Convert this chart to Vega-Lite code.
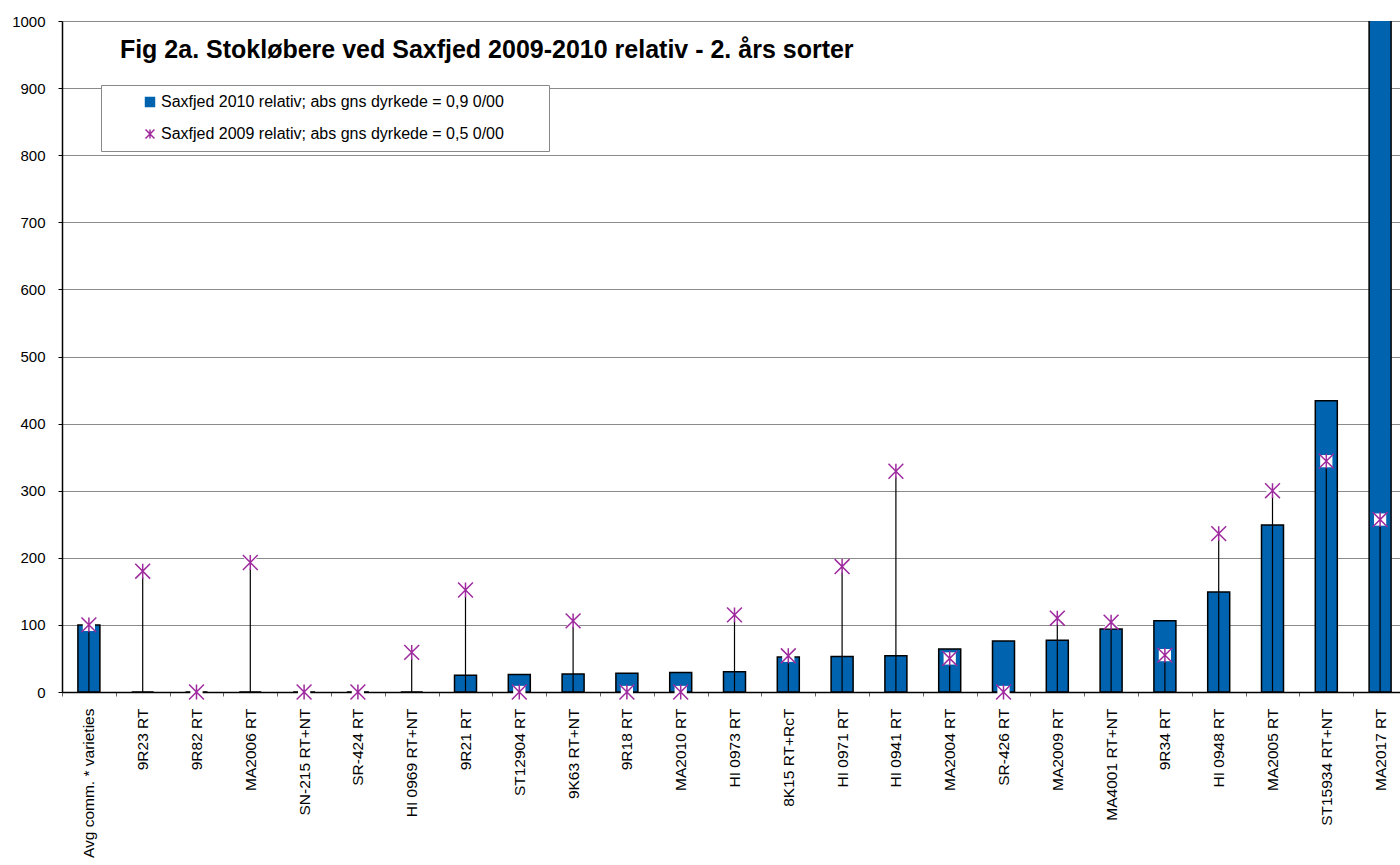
{
  "$schema": "https://vega.github.io/schema/vega-lite/v6.json",
  "autosize": "none",
  "width": 1345,
  "height": 671,
  "padding": {"left": 62, "top": 21, "right": 0, "bottom": 173},
  "background": "white",
  "config": {
    "font": "Liberation Sans",
    "view": {"stroke": null},
    "legend": {
      "title": null,
      "orient": "none",
      "legendX": 39,
      "legendY": 64,
      "padding": 9,
      "fillColor": "white",
      "strokeColor": "#888888",
      "labelFontSize": 16,
      "labelFont": "Liberation Sans",
      "labelColor": "black",
      "labelLimit": 700,
      "symbolSize": 80,
      "symbolOffset": 32,
      "labelOffset": 3,
      "rowPadding": 16,
      "symbolStrokeWidth": 1.5
    }
  },
  "data": {
    "values": [
      {"variety": "Avg comm.  * varieties", "y2010": 100, "y2009": 100},
      {"variety": "9R23 RT", "y2010": 0, "y2009": 180},
      {"variety": "9R82 RT", "y2010": 0, "y2009": 0},
      {"variety": "MA2006 RT", "y2010": 0, "y2009": 193},
      {"variety": "SN-215 RT+NT", "y2010": 0, "y2009": 0},
      {"variety": "SR-424 RT", "y2010": 0, "y2009": 0},
      {"variety": "HI 0969 RT+NT", "y2010": 0, "y2009": 59},
      {"variety": "9R21 RT", "y2010": 25, "y2009": 152},
      {"variety": "ST12904 RT", "y2010": 26, "y2009": 0},
      {"variety": "9K63 RT+NT", "y2010": 27, "y2009": 106},
      {"variety": "9R18 RT", "y2010": 28, "y2009": 0},
      {"variety": "MA2010 RT", "y2010": 29, "y2009": 0},
      {"variety": "HI 0973 RT", "y2010": 30, "y2009": 115},
      {"variety": "8K15 RT+RcT", "y2010": 52, "y2009": 54},
      {"variety": "HI 0971 RT", "y2010": 53, "y2009": 187},
      {"variety": "HI 0941 RT", "y2010": 54, "y2009": 329},
      {"variety": "MA2004 RT", "y2010": 64, "y2009": 50},
      {"variety": "SR-426 RT", "y2010": 76, "y2009": 0},
      {"variety": "MA2009 RT", "y2010": 77, "y2009": 110},
      {"variety": "MA4001 RT+NT", "y2010": 94, "y2009": 104},
      {"variety": "9R34 RT", "y2010": 106, "y2009": 55},
      {"variety": "HI 0948 RT", "y2010": 149, "y2009": 236},
      {"variety": "MA2005 RT", "y2010": 249, "y2009": 300},
      {"variety": "ST15934 RT+NT", "y2010": 434, "y2009": 344},
      {"variety": "MA2017 RT", "y2010": 1100, "y2009": 257}
    ]
  },
  "transform": [{"fold": ["y2010", "y2009"], "as": ["series", "value"]}],
  "encoding": {
    "x": {
      "field": "variety",
      "type": "nominal",
      "scale": {
        "domain": ["Avg comm.  * varieties", "9R23 RT", "9R82 RT", "MA2006 RT", "SN-215 RT+NT", "SR-424 RT", "HI 0969 RT+NT", "9R21 RT", "ST12904 RT", "9K63 RT+NT", "9R18 RT", "MA2010 RT", "HI 0973 RT", "8K15 RT+RcT", "HI 0971 RT", "HI 0941 RT", "MA2004 RT", "SR-426 RT", "MA2009 RT", "MA4001 RT+NT", "9R34 RT", "HI 0948 RT", "MA2005 RT", "ST15934 RT+NT", "MA2017 RT"],
        "paddingInner": 0,
        "paddingOuter": 0
      },
      "axis": {
        "title": null,
        "labelAngle": -90,
        "labelFontSize": 15.5,
        "labelFont": "Liberation Sans",
        "labelColor": "black",
        "labelPadding": 12,
        "labelLimit": 300,
        "tickBand": "extent",
        "tickSize": 4,
        "tickColor": "#666666",
        "domainColor": "black",
        "domainWidth": 1.5,
        "grid": false
      }
    }
  },
  "layer": [
    {
      "transform": [{"filter": "datum.series == 'y2010'"}],
      "mark": {"type": "bar", "size": 22, "clip": true, "stroke": "black", "strokeWidth": 1.5},
      "encoding": {
        "y": {
          "field": "value",
          "type": "quantitative",
          "scale": {"domain": [0, 1000], "nice": false},
          "axis": {
            "title": null,
            "values": [0, 100, 200, 300, 400, 500, 600, 700, 800, 900, 1000],
            "format": "d",
            "grid": true,
            "gridColor": "#8A8A8A",
            "gridWidth": 1,
            "domainColor": "black",
            "domainWidth": 1.5,
            "tickColor": "black",
            "tickSize": 4,
            "labelFontSize": 15,
            "labelFont": "Liberation Sans",
            "labelPadding": 13,
            "labelColor": "black"
          }
        },
        "color": {
          "field": "series",
          "type": "nominal",
          "scale": {"domain": ["y2010", "y2009"], "range": ["#0063B0", "#9E2A9E"]},
          "legend": {
            "labelExpr": "datum.value == 'y2010' ? 'Saxfjed 2010 relativ; abs gns dyrkede = 0,9 0/00\u00a0\u00a0\u00a0\u00a0\u00a0\u00a0\u00a0\u00a0\u200b' : 'Saxfjed 2009 relativ; abs gns dyrkede = 0,5 0/00\u00a0\u00a0\u00a0\u00a0\u00a0\u00a0\u00a0\u00a0\u200b'",
            "encode": {
              "symbols": {
                "update": {
                  "fill": {"signal": "datum.value == 'y2010' ? '#0063B0' : 'transparent'"},
                  "stroke": {"signal": "datum.value == 'y2010' ? 'black' : '#9E2A9E'"}
                }
              }
            }
          }
        }
      }
    },
    {
      "transform": [{"filter": "datum.series == 'y2009'"}],
      "mark": {"type": "rule", "color": "black", "strokeWidth": 1.2},
      "encoding": {
        "y": {"field": "value", "type": "quantitative"},
        "y2": {"datum": 0}
      }
    },
    {
      "transform": [{"filter": "datum.series == 'y2009'"}],
      "mark": {"type": "point", "shape": "square", "filled": true, "color": "white", "opacity": 1, "size": 150, "strokeWidth": 0},
      "encoding": {
        "y": {"field": "value", "type": "quantitative"}
      }
    },
    {
      "transform": [{"filter": "datum.series == 'y2009'"}],
      "mark": {"type": "point", "filled": false, "strokeWidth": 1.5, "size": 220, "opacity": 1},
      "encoding": {
        "y": {"field": "value", "type": "quantitative"},
        "color": {
          "field": "series",
          "type": "nominal",
          "scale": {"domain": ["y2010", "y2009"], "range": ["#0063B0", "#9E2A9E"]},
          "legend": {
            "labelExpr": "datum.value == 'y2010' ? 'Saxfjed 2010 relativ; abs gns dyrkede = 0,9 0/00\u00a0\u00a0\u00a0\u00a0\u00a0\u00a0\u00a0\u00a0\u200b' : 'Saxfjed 2009 relativ; abs gns dyrkede = 0,5 0/00\u00a0\u00a0\u00a0\u00a0\u00a0\u00a0\u00a0\u00a0\u200b'",
            "encode": {
              "symbols": {
                "update": {
                  "fill": {"signal": "datum.value == 'y2010' ? '#0063B0' : 'transparent'"},
                  "stroke": {"signal": "datum.value == 'y2010' ? 'black' : '#9E2A9E'"}
                }
              }
            }
          }
        },
        "shape": {
          "field": "series",
          "type": "nominal",
          "scale": {"domain": ["y2010", "y2009"], "range": ["square", "M-1,-1L1,1M1,-1L-1,1M0,-1L0,1"]},
          "legend": {
            "labelExpr": "datum.value == 'y2010' ? 'Saxfjed 2010 relativ; abs gns dyrkede = 0,9 0/00\u00a0\u00a0\u00a0\u00a0\u00a0\u00a0\u00a0\u00a0\u200b' : 'Saxfjed 2009 relativ; abs gns dyrkede = 0,5 0/00\u00a0\u00a0\u00a0\u00a0\u00a0\u00a0\u00a0\u00a0\u200b'",
            "encode": {
              "symbols": {
                "update": {
                  "fill": {"signal": "datum.value == 'y2010' ? '#0063B0' : 'transparent'"},
                  "stroke": {"signal": "datum.value == 'y2010' ? 'black' : '#9E2A9E'"}
                }
              }
            }
          }
        }
      }
    },
    {
      "data": {"values": [{"caption": "Fig 2a. Stokløbere ved Saxfjed 2009-2010 relativ - 2. års sorter"}]},
      "transform": [],
      "mark": {"type": "text", "align": "left", "baseline": "alphabetic", "dx": 31, "fontSize": 25, "fontWeight": "bold", "font": "Liberation Sans", "color": "black"},
      "encoding": {
        "x": {"datum": "Avg comm.  * varieties"},
        "y": {"datum": 945},
        "text": {"field": "caption", "type": "nominal"}
      }
    }
  ]
}
